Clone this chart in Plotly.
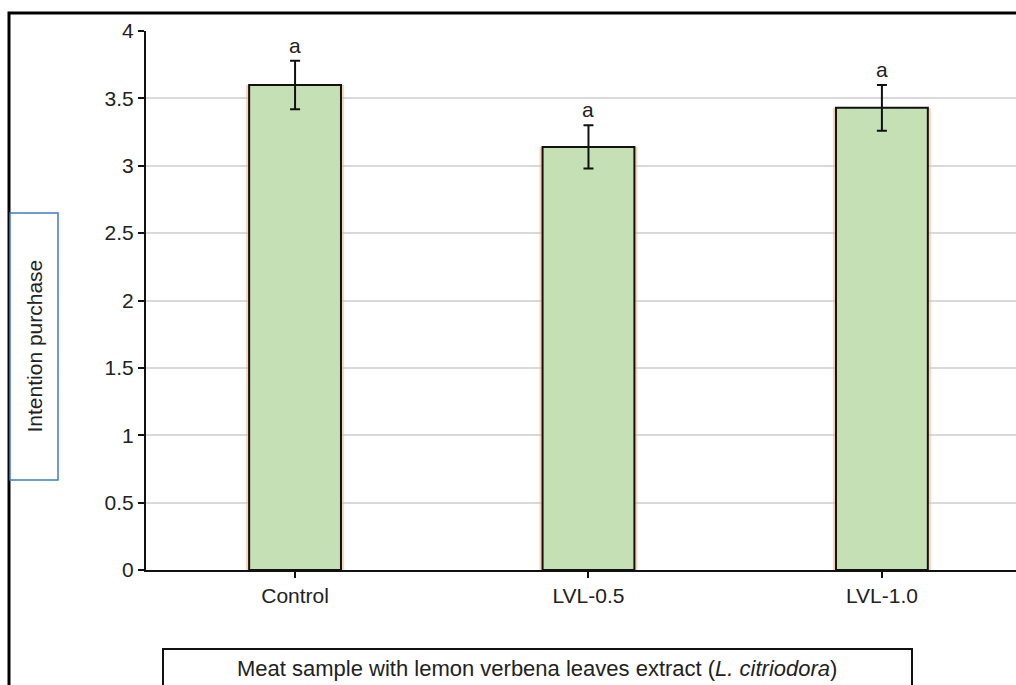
import plotly.graph_objects as go

# Purchase intention scores for meat samples with lemon verbena extract
categories = ["Control", "LVL-0.5", "LVL-1.0"]
means = [3.60, 3.14, 3.43]
errors = [0.18, 0.16, 0.17]
letters = ["a", "a", "a"]
y_ticks = [0, 0.5, 1, 1.5, 2, 2.5, 3, 3.5, 4]
y_tick_text = ["0", "0.5", "1", "1.5", "2", "2.5", "3", "3.5", "4"]

FONT = "Liberation Sans, Arial, sans-serif"
FS = 21
W, H = 1016, 685
L, T, B = 146, 31, 115
PW, PH = W - L, H - T - B


def px_x(p):
    return (p - L) / PW


def px_y(p):
    return (H - B - p) / PH


fig = go.Figure()

# soft peach halo behind each bar
fig.add_trace(go.Bar(
    x=categories, y=means, width=0.334,
    marker=dict(color="rgba(247,176,136,0.55)", line=dict(width=0)),
    hoverinfo="skip", showlegend=False,
))

fig.add_trace(go.Bar(
    x=categories, y=means, width=0.313,
    marker=dict(color="#c5e0b4", line=dict(color="#111111", width=2)),
    error_y=dict(type="data", array=errors, visible=True,
                 color="#111111", thickness=2, width=5),
    showlegend=False,
))

for c, m, e, s in zip(categories, means, errors, letters):
    fig.add_annotation(x=c, y=m + e, text=s, showarrow=False,
                       yanchor="bottom", yshift=2,
                       font=dict(family=FONT, size=FS, color="#222222"))

shapes = [
    # outer frame (left and top edges visible)
    dict(type="rect", xref="paper", yref="paper",
         x0=px_x(9), x1=px_x(1200), y0=px_y(900), y1=px_y(13),
         line=dict(color="#000000", width=3)),
    # y-axis title box
    dict(type="rect", xref="paper", yref="paper",
         x0=px_x(10), x1=px_x(58), y0=px_y(480), y1=px_y(213),
         line=dict(color="#3a7fc1", width=1.5), fillcolor="white"),
    # x-axis title box
    dict(type="rect", xref="paper", yref="paper",
         x0=px_x(163), x1=px_x(912), y0=px_y(720), y1=px_y(649),
         line=dict(color="#111111", width=2), fillcolor="white"),
]

annotations_extra = [
    dict(x=px_x(34), y=px_y(346.5), xref="paper", yref="paper",
         xanchor="center", yanchor="middle",
         text="Intention purchase", textangle=-90, showarrow=False,
         font=dict(family=FONT, size=FS, color="#222222")),
    dict(x=px_x(537), y=px_y(668), xref="paper", yref="paper",
         xanchor="center", yanchor="middle",
         text="Meat sample with lemon verbena leaves extract (<i>L. citriodora</i>)",
         showarrow=False, font=dict(family=FONT, size=22, color="#222222")),
]
for a in annotations_extra:
    fig.add_annotation(**a)

fig.update_layout(
    width=W, height=H,
    margin=dict(l=L, r=0, t=T, b=B, pad=0),
    paper_bgcolor="white", plot_bgcolor="white",
    barmode="overlay",
    shapes=shapes,
    font=dict(family=FONT, size=FS, color="#222222"),
    xaxis=dict(
        range=[-0.508, 2.457], showgrid=False, zeroline=False,
        showline=True, linecolor="#111111", linewidth=2,
        ticks="outside", ticklen=6, tickwidth=2, tickcolor="#111111",
        tickfont=dict(family=FONT, size=FS, color="#222222"),
        fixedrange=True,
    ),
    yaxis=dict(
        range=[0, 4], tickvals=y_ticks, ticktext=y_tick_text,
        showgrid=True, gridcolor="#d9d9d9", gridwidth=1.5,
        zeroline=False, showline=True, linecolor="#111111", linewidth=2,
        ticks="outside", ticklen=6, tickwidth=2, tickcolor="#111111",
        tickfont=dict(family=FONT, size=FS, color="#222222"),
        fixedrange=True,
    ),
)

fig.write_html("out.html")
